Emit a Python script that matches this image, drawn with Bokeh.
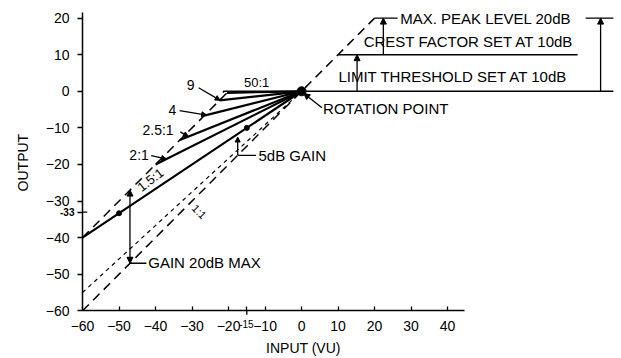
import math
from bokeh.plotting import figure
from bokeh.models import Label, Arrow, NormalHead, FixedTicker, Range1d, LinearAxis
from bokeh.embed import file_html
from bokeh.resources import INLINE

# ---- data ----
ratios = [1.5, 2, 2.5, 4, 9, 50]
max_gain = 20            # dB, dashed "gain 20dB max" line y = x + 20
threshold = 10           # limit threshold
crest = 10               # crest factor
peak = 20                # max peak level
near_unity_start = [-60, -55]   # fine dashed line to rotation point
x_ticks = [-60, -50, -40, -30, -20, -10, 0, 10, 20, 30, 40]
y_ticks = [-60, -50, -40, -30, -20, -10, 0, 10, 20]
extra_x_tick = -15
extra_y_tick = -33
marked_inputs = [-50, -15]      # points marked on the 1.5:1 curve
gain_marker_x = -17.5
gain_marker_db = 5
max_gain_marker_x = -47

FONT = "Liberation Sans"

p = figure(width=615, height=356, x_range=Range1d(-82.46, 85.98), y_range=Range1d(-72.48, 24.81),
           output_backend="svg", toolbar_location=None, x_axis_type=None, y_axis_type=None,
           min_border_left=0, min_border_right=0, min_border_top=0, min_border_bottom=0)
p.grid.visible = False
p.outline_line_color = None
p.background_fill_color = "white"

xaxis = LinearAxis(fixed_location=-60, ticker=FixedTicker(ticks=x_ticks + [extra_x_tick]),
                   major_label_overrides={extra_x_tick: ""}, bounds=(-60, 44.5),
                   major_tick_in=4, major_tick_out=0, major_label_standoff=10)
yaxis = LinearAxis(fixed_location=-60, ticker=FixedTicker(ticks=y_ticks + [extra_y_tick]),
                   major_label_overrides={extra_y_tick: ""}, bounds=(-60, 21.5),
                   major_tick_in=0, major_tick_out=5, major_label_standoff=8)
for ax in (xaxis, yaxis):
    ax.axis_line_width = 1.5
    ax.axis_line_color = "black"
    ax.major_tick_line_color = "black"
    ax.major_tick_line_width = 1.3
    ax.minor_tick_line_color = None
    ax.major_label_text_font = FONT
    ax.major_label_text_font_size = "14px"
    ax.major_label_text_color = "black"
p.add_layout(xaxis, "below")
p.add_layout(yaxis, "left")

# crossing parts of the extra ticks
p.segment(x0=[extra_x_tick], y0=[-60], x1=[extra_x_tick], y1=[-60 - 1.1], line_color="black", line_width=1.3)
p.segment(x0=[-60], y0=[extra_y_tick], x1=[-60 + 1.3], y1=[extra_y_tick], line_color="black", line_width=1.3)

# reference lines
lo = -60
p.line([lo, peak], [lo, peak], line_color="black", line_width=1.5, line_dash="9 6")            # 1:1
p.line([near_unity_start[0], 0], [near_unity_start[1], 0], line_color="black", line_width=1.2, line_dash="4 4")
x_knee_end = -max_gain * ratios[-1] / (ratios[-1] - 1)
p.line([lo, x_knee_end], [lo + max_gain, x_knee_end + max_gain], line_color="black", line_width=1.5, line_dash="9 6")

# ratio curves
for r in ratios:
    x0 = -max_gain * r / (r - 1)
    p.line([x0, 0], [x0 / r, 0], line_color="black", line_width=2.2)

# threshold / crest / peak lines
p.line([0, 85.4], [0, 0], line_color="black", line_width=1.6)
p.line([threshold, 75.6], [threshold, threshold], line_color="black", line_width=1.6)
p.line([peak, 26.3], [peak, peak], line_color="black", line_width=1.4)
p.line([77.8, 85.4], [peak, peak], line_color="black", line_width=1.4)

# marked points
p.scatter(marked_inputs, [v / ratios[0] for v in marked_inputs], size=5, color="black")
p.scatter([0], [0], size=9, color="black")

def arrow(x0, y0, x1, y1, both=False, size=6):
    p.add_layout(Arrow(x_start=x0, y_start=y0, x_end=x1, y_end=y1,
                       end=NormalHead(size=size, fill_color="black", line_color="black"),
                       start=NormalHead(size=size, fill_color="black", line_color="black") if both else None,
                       line_color="black", line_width=1.3))

arrow(81.9, 0, 81.9, peak)
arrow(22.4, threshold, 22.4, peak)
arrow(15.2, 0, 15.2, threshold)
arrow(5.6, -4.5, 0.6, -0.6)
arrow(max_gain_marker_x, max_gain_marker_x, max_gain_marker_x, max_gain_marker_x + max_gain, both=True)
p.line([max_gain_marker_x, -42.5], [max_gain_marker_x] * 2, line_color="black", line_width=1.3)
arrow(gain_marker_x, gain_marker_x, gain_marker_x, gain_marker_x + gain_marker_db, size=5)
p.line([gain_marker_x, -12.5], [gain_marker_x] * 2, line_color="black", line_width=1.3)

# leaders from ratio labels
arrow(-28.2, 0.95, -22.3, -22.3 / 9, size=5)
arrow(-33.4, -5.3, -26.0, -6.5, size=5)
arrow(-33.2, -11.1, -31.0, -31.0 / 2.5, size=5)
arrow(-41.2, -17.6, -37.0, -18.5, size=5)
p.line([-21.4, -21.4, 0], [-0.4, 0, 0], line_color="black", line_width=1.4)

def label(x, y, text, size="15px", align="left", angle=0.0, bold=False):
    p.add_layout(Label(x=x, y=y, text=text, text_font=FONT, text_font_size=size,
                       text_align=align, text_baseline="middle", angle=angle,
                       text_font_style="bold" if bold else "normal",
                       text_color="black"))

label(27.0, peak, "MAX. PEAK LEVEL 20dB")
label(17.0, 13.6, "CREST FACTOR SET AT 10dB")
label(10.1, 4.0, "LIMIT THRESHOLD SET AT 10dB")
label(5.9, -4.8, "ROTATION POINT")
label(-11.8, -17.5, "5dB GAIN")
label(-42.0, -46.7, "GAIN 20dB MAX")
label(-30.4, 1.8, "9", size="14px", align="center")
label(-35.4, -5.1, "4", size="14px", align="center")
label(-39.3, -10.5, "2.5:1", size="14px", align="center")
label(-44.5, -17.4, "2:1", size="14px", align="center")
label(-12.3, 2.3, "50:1", size="13px", align="center")
label(-41.4, -24.2, "1.5:1", size="13px", align="center", angle=math.radians(38))
label(-28.0, -32.9, "1:1", size="11px", align="center", angle=math.radians(-45))
label(-62.2, extra_y_tick, "-33", size="10px", align="right", bold=True)
label(-15.1, -63.7, "-15", size="10px", align="center")
label(0.5, -70.1, "INPUT (VU)", size="14px", align="center")
label(-76.2, -19.5, "OUTPUT", size="14px", align="center", angle=math.pi / 2)

open("out.html", "w").write(file_html(p, INLINE))
